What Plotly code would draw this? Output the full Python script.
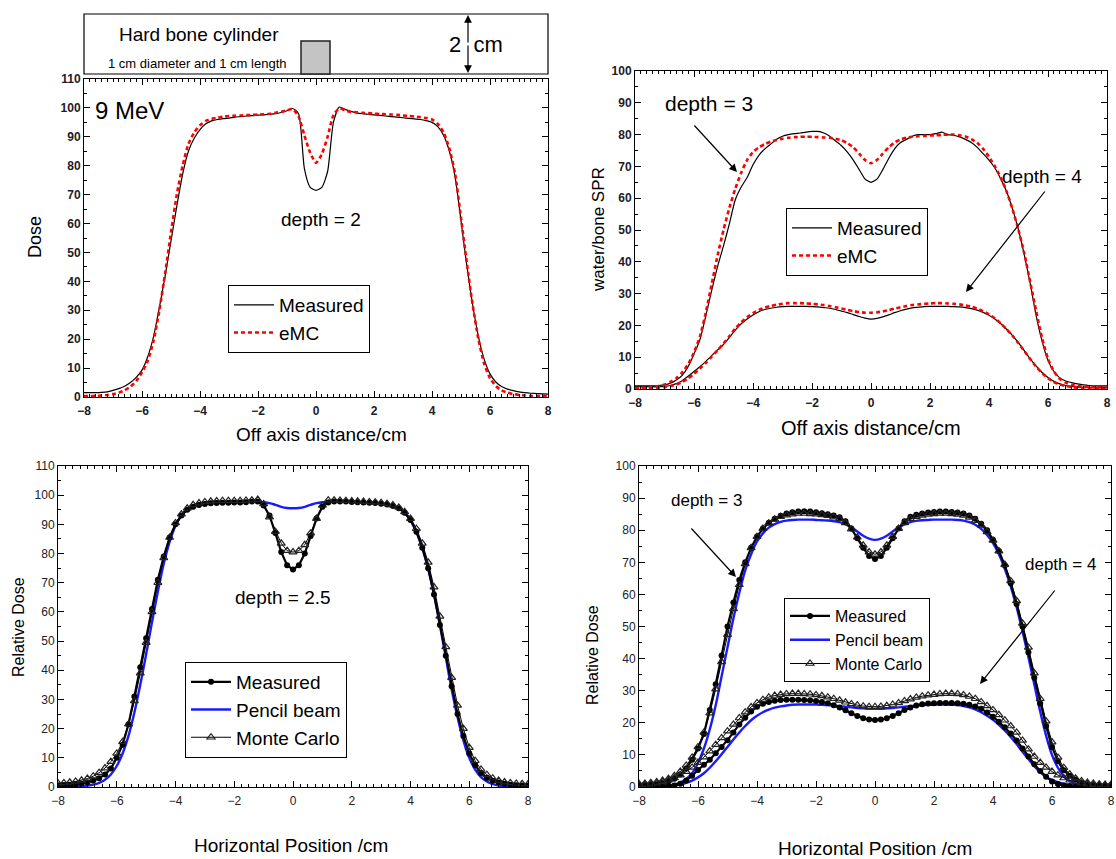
import plotly.graph_objects as go

W, H = 1116, 859

# common sampling grid of the profiles (cm)
X = [round(-8 + 0.2 * i, 1) for i in range(81)]

# ---------- Panel 1 : 9 MeV, depth = 2 ----------
P1_MEAS = [1.5, 1.5, 1.5, 1.6, 1.8, 2.3, 2.9, 3.7, 5.0, 6.8,
           9.3, 14.0, 21.0, 31.0, 42.0, 54.0, 66.0, 77.0, 85.0, 89.5,
           92.5, 94.5, 95.5, 96.0, 96.3, 96.5, 96.8, 97.0, 97.2, 97.3,
           97.5, 97.6, 97.8, 98.0, 98.4, 99.0, 99.8, 98.0, 79.0, 72.5,
           71.5, 72.5, 78.0, 95.0, 100.3, 99.5, 98.8, 98.3, 98.0, 97.8,
           97.6, 97.4, 97.2, 97.0, 96.8, 96.6, 96.4, 96.2, 96.0, 95.6,
           95.0, 93.5, 90.5, 85.0, 76.0, 61.0, 45.5, 32.0, 21.0, 13.0,
           8.0, 5.2, 3.6, 2.7, 2.2, 1.8, 1.5, 1.3, 1.2, 1.1,
           1.0]
P1_EMC = [0.3, 0.3, 0.4, 0.5, 0.7, 1.0, 1.5, 2.3, 3.6, 5.5,
          8.5, 12.5, 19.5, 30.0, 43.0, 57.0, 70.0, 80.0, 87.5, 91.5,
          94.0, 95.5, 96.2, 96.6, 97.0, 97.2, 97.3, 97.4, 97.5, 97.6,
          97.7, 97.8, 98.0, 98.3, 98.7, 99.2, 99.6, 97.0, 90.5, 84.5,
          81.0, 84.0, 90.0, 97.5, 99.8, 99.2, 98.6, 98.5, 98.3, 98.2,
          98.0, 97.9, 97.8, 97.7, 97.6, 97.4, 97.2, 97.0, 96.8, 96.5,
          96.0, 94.5, 91.5, 86.0, 77.0, 62.0, 46.5, 32.0, 20.0, 11.5,
          6.5, 3.8, 2.3, 1.5, 1.0, 0.7, 0.5, 0.4, 0.3, 0.3,
          0.3]

# ---------- Panel 2 : depth = 3 and depth = 4 ----------
P2_D3_MEAS = [1.0, 1.0, 1.0, 1.0, 1.1, 1.3, 1.8, 2.8, 4.3, 7.0,
              11.0, 15.5, 23.0, 31.0, 38.5, 45.0, 52.0, 59.5, 63.5, 66.5,
              70.5, 73.5, 75.5, 77.0, 78.5, 79.5, 80.0, 80.3, 80.5, 80.8,
              81.0, 81.0, 80.5, 79.5, 78.0, 76.5, 74.5, 72.0, 69.0, 66.0,
              65.0, 66.0, 69.0, 72.5, 75.5, 77.5, 78.5, 79.5, 80.0, 80.0,
              80.0, 80.3, 80.8, 80.0, 79.8, 79.3, 78.5, 77.5, 76.0, 74.0,
              72.0, 69.5, 66.0, 62.0, 56.5, 50.0, 42.0, 33.0, 23.0, 15.0,
              9.0, 5.5, 3.5, 2.5, 2.0, 1.6, 1.3, 1.1, 1.0, 1.0,
              1.0]
P2_D3_EMC = [0.2, 0.3, 0.4, 0.6, 0.9, 1.4, 2.2, 3.4, 5.2, 7.8,
             11.5, 16.5, 24.0, 33.0, 42.0, 50.0, 57.0, 63.0, 68.0, 72.0,
             74.5, 76.0, 77.0, 77.8, 78.3, 78.7, 79.0, 79.2, 79.3, 79.3,
             79.3, 79.2, 79.1, 79.0, 78.7, 78.2, 77.3, 76.0, 74.0, 72.0,
             71.0, 72.0, 74.0, 76.0, 77.5, 78.5, 79.0, 79.3, 79.5, 79.6,
             79.7, 79.8, 79.9, 80.0, 80.0, 79.8, 79.4, 78.6, 77.4, 75.5,
             73.0, 70.0, 66.5, 62.0, 56.5, 50.0, 42.5, 33.5, 24.5, 16.0,
             9.5, 5.5, 3.2, 2.0, 1.3, 0.9, 0.7, 0.6, 0.5, 0.5,
             0.5]
P2_D4_MEAS = [0.7, 0.7, 0.7, 0.7, 0.7, 0.8, 1.1, 1.7, 2.6, 4.0,
              5.5, 7.0, 8.7, 10.5, 12.3, 14.0, 16.2, 18.5, 20.5, 22.0,
              23.3, 24.3, 25.0, 25.4, 25.7, 25.9, 26.0, 26.0, 26.0, 26.0,
              25.9, 25.8, 25.6, 25.4, 25.0, 24.5, 24.0, 23.4, 22.8, 22.3,
              22.0, 22.2, 22.7, 23.3, 24.0, 24.6, 25.1, 25.5, 25.7, 25.9,
              26.0, 26.0, 26.0, 26.0, 25.9, 25.8, 25.6, 25.3, 24.8, 24.1,
              23.2, 22.0, 20.5, 18.8, 16.8, 14.5, 12.0, 9.5, 7.2, 5.2,
              3.6, 2.4, 1.6, 1.1, 0.8, 0.6, 0.5, 0.5, 0.5, 0.5,
              0.5]
P2_D4_EMC = [0.1, 0.1, 0.2, 0.3, 0.4, 0.6, 0.9, 1.4, 2.2, 3.3,
             4.8, 6.4, 8.2, 10.2, 12.2, 14.3, 16.6, 19.0, 21.0, 22.6,
             23.9, 24.9, 25.6, 26.1, 26.5, 26.8, 27.0, 27.0, 27.0, 26.9,
             26.8, 26.6, 26.4, 26.1, 25.7, 25.3, 24.9, 24.5, 24.2, 24.0,
             24.0, 24.1, 24.4, 24.8, 25.3, 25.7, 26.1, 26.4, 26.6, 26.8,
             26.9, 27.0, 27.0, 26.9, 26.8, 26.6, 26.3, 25.9, 25.3, 24.5,
             23.5, 22.2, 20.6, 18.8, 16.7, 14.4, 11.9, 9.4, 7.0, 5.0,
             3.4, 2.2, 1.4, 0.9, 0.6, 0.4, 0.3, 0.2, 0.2, 0.1,
             0.1]

# ---------- Panel 3 : depth = 2.5 ----------
P3_MEAS = [0.5, 0.6, 0.7, 0.9, 1.2, 1.6, 2.2, 3.0, 4.3, 6.3,
           10.0, 14.5, 21.5, 31.0, 41.0, 51.0, 61.0, 71.0, 79.0, 85.5,
           90.0, 93.0, 95.0, 96.0, 96.6, 97.0, 97.2, 97.3, 97.4, 97.4,
           97.5, 97.5, 97.6, 97.8, 97.8, 96.5, 93.0, 87.0, 80.5, 76.0,
           74.5, 76.0, 80.0, 86.0, 92.0, 96.0, 97.5, 97.8, 97.8, 97.8,
           97.7, 97.6, 97.5, 97.4, 97.3, 97.1, 96.8, 96.3, 95.5, 94.0,
           91.5, 87.5, 82.0, 75.0, 66.0, 55.5, 45.0, 34.5, 25.0, 17.5,
           11.5, 7.5, 4.8, 3.1, 2.1, 1.5, 1.1, 0.8, 0.6, 0.5,
           0.5]
P3_MC = [1.3, 1.4, 1.6, 1.9, 2.3, 2.9, 3.7, 4.9, 6.5, 8.7,
         11.5, 15.5, 21.5, 29.5, 39.0, 49.5, 60.0, 70.0, 78.5, 85.5,
         90.5, 93.5, 95.5, 96.7, 97.3, 97.7, 97.9, 98.0, 98.1, 98.1,
         98.1, 98.1, 98.2, 98.3, 98.5, 97.0, 92.5, 87.5, 83.5, 81.0,
         80.5, 81.0, 83.0, 87.0, 92.0, 96.5, 98.3, 98.3, 98.2, 98.1,
         98.0, 97.9, 97.8, 97.7, 97.6, 97.4, 97.1, 96.6, 95.8, 94.3,
         92.0, 88.5, 83.5, 77.0, 68.5, 58.5, 48.0, 37.5, 28.0, 20.0,
         13.5, 9.0, 6.0, 4.2, 3.0, 2.2, 1.7, 1.4, 1.2, 1.1,
         1.0]
P3_PB = [0.1, 0.1, 0.1, 0.2, 0.3, 0.5, 0.8, 1.4, 2.5, 4.3,
         7.2, 11.5, 17.5, 25.5, 35.0, 45.5, 56.5, 67.0, 76.5, 84.0,
         89.5, 93.0, 95.2, 96.4, 97.0, 97.3, 97.5, 97.6, 97.7, 97.7,
         97.7, 97.7, 97.7, 97.7, 97.7, 97.6, 97.3, 96.7, 96.0, 95.6,
         95.5, 95.6, 96.0, 96.7, 97.3, 97.6, 97.7, 97.7, 97.7, 97.7,
         97.7, 97.7, 97.6, 97.5, 97.3, 97.1, 96.8, 96.3, 95.5, 94.0,
         91.5, 87.5, 82.0, 75.0, 66.0, 55.5, 44.5, 33.5, 24.0, 16.0,
         10.0, 6.0, 3.4, 1.9, 1.0, 0.5, 0.3, 0.2, 0.1, 0.1,
         0.1]

# ---------- Panel 4 : depth = 3 and depth = 4 ----------
P4_D3_MEAS = [0.6, 0.6, 0.7, 0.8, 1.0, 1.8, 2.6, 3.9, 5.8, 8.5,
              12.0, 16.5, 24.0, 32.0, 41.0, 50.0, 57.5, 64.5, 70.0, 74.5,
              78.0, 80.5, 82.3, 83.6, 84.5, 85.2, 85.6, 85.8, 85.9, 85.8,
              85.6, 85.3, 85.0, 84.6, 84.0, 82.8, 80.5, 77.5, 74.5, 72.0,
              71.0, 72.0, 74.5, 77.5, 80.5, 82.8, 84.2, 84.8, 85.2, 85.5,
              85.7, 85.8, 85.8, 85.7, 85.5, 85.2, 84.6, 83.6, 82.0, 80.0,
              77.0, 73.5, 69.0, 63.5, 57.0, 50.0, 42.0, 34.0, 26.0, 19.0,
              12.5, 8.0, 5.2, 3.5, 2.3, 1.3, 0.8, 0.6, 0.5, 0.5,
              0.5]
P4_D3_MC = [1.0, 1.1, 1.3, 1.6, 2.0, 2.6, 3.5, 4.8, 6.7, 9.2,
            12.5, 17.0, 23.0, 30.5, 39.0, 47.5, 55.5, 63.0, 69.5, 74.5,
            78.0, 80.5, 82.2, 83.4, 84.2, 84.7, 85.0, 85.2, 85.2, 85.1,
            85.0, 84.8, 84.5, 84.1, 83.5, 82.3, 80.3, 77.8, 75.3, 73.2,
            72.5, 73.2, 75.3, 78.0, 80.5, 82.3, 83.5, 84.2, 84.6, 84.9,
            85.1, 85.2, 85.2, 85.1, 84.9, 84.6, 84.0, 83.0, 81.5, 79.5,
            76.8, 73.5, 69.3, 64.2, 58.0, 51.0, 43.5, 35.5, 27.5, 20.5,
            14.0, 9.2, 6.0, 4.0, 2.7, 1.9, 1.4, 1.1, 0.9, 0.8,
            0.8]
P4_D3_PB = [0.1, 0.1, 0.1, 0.2, 0.3, 0.5, 0.8, 1.4, 2.5, 4.3,
            7.5, 12.0, 18.0, 25.5, 34.5, 43.5, 52.5, 60.5, 67.5, 72.5,
            76.5, 79.0, 80.8, 81.9, 82.6, 83.0, 83.2, 83.3, 83.3, 83.3,
            83.2, 83.1, 83.0, 82.8, 82.5, 81.8, 80.8, 79.6, 78.3, 77.4,
            77.0, 77.4, 78.3, 79.6, 80.8, 81.8, 82.5, 82.9, 83.1, 83.2,
            83.3, 83.3, 83.3, 83.3, 83.2, 83.0, 82.5, 81.7, 80.4, 78.5,
            76.0, 72.5, 68.0, 62.5, 56.0, 48.5, 40.5, 32.0, 23.5, 16.0,
            10.0, 6.0, 3.4, 1.9, 1.0, 0.5, 0.3, 0.2, 0.1, 0.1,
            0.1]
P4_D4_MEAS = [0.2, 0.2, 0.2, 0.2, 0.2, 0.3, 0.5, 1.0, 2.0, 3.5,
              5.3, 6.9, 8.5, 10.5, 12.5, 14.6, 17.0, 19.5, 21.6, 23.5,
              25.0, 25.9, 26.5, 26.9, 27.1, 27.2, 27.2, 27.2, 27.1, 27.0,
              26.8, 26.5, 26.1, 25.5, 24.8, 23.9, 23.0, 22.1, 21.4, 21.0,
              20.9, 21.0, 21.4, 22.1, 23.0, 24.0, 24.8, 25.4, 25.8, 26.0,
              26.1, 26.2, 26.2, 26.2, 26.1, 25.9, 25.6, 25.1, 24.4, 23.2,
              21.9, 20.3, 18.6, 16.7, 14.5, 12.0, 9.5, 7.1, 5.0, 3.2,
              1.7, 0.9, 0.5, 0.3, 0.2, 0.1, 0.1, 0.1, 0.1, 0.1,
              0.1]
P4_D4_MC = [0.6, 0.7, 0.9, 1.2, 1.6, 2.1, 2.8, 3.7, 4.8, 6.1,
            7.6, 9.3, 11.2, 13.2, 15.3, 17.4, 19.5, 21.5, 23.3, 24.9,
            26.2, 27.2, 28.0, 28.5, 28.8, 29.0, 29.1, 29.1, 29.0, 28.9,
            28.7, 28.4, 28.0, 27.5, 27.0, 26.4, 25.9, 25.5, 25.2, 25.0,
            25.0, 25.1, 25.3, 25.7, 26.2, 26.8, 27.4, 27.9, 28.3, 28.6,
            28.8, 29.0, 29.1, 29.1, 29.0, 28.7, 28.2, 27.5, 26.5, 25.3,
            24.0, 22.5, 20.8, 19.0, 17.0, 14.5, 11.8, 9.5, 7.6, 6.1,
            4.8, 3.7, 2.8, 2.1, 1.6, 1.2, 0.9, 0.7, 0.6, 0.5,
            0.5]
P4_D4_PB = [0.1, 0.1, 0.1, 0.1, 0.2, 0.3, 0.5, 0.8, 1.3, 2.0,
            3.0, 4.3, 6.0, 8.0, 10.2, 12.5, 14.8, 17.0, 19.0, 20.8,
            22.2, 23.3, 24.1, 24.7, 25.1, 25.4, 25.6, 25.7, 25.7, 25.7,
            25.7, 25.6, 25.5, 25.4, 25.2, 25.0, 24.8, 24.6, 24.5, 24.4,
            24.4, 24.4, 24.5, 24.6, 24.8, 25.0, 25.2, 25.4, 25.5, 25.6,
            25.6, 25.7, 25.7, 25.6, 25.5, 25.2, 24.8, 24.2, 23.3, 22.2,
            20.9, 19.4, 17.6, 15.6, 13.4, 11.0, 8.7, 6.5, 4.6, 3.1,
            2.2, 1.5, 1.0, 0.6, 0.4, 0.2, 0.1, 0.1, 0.1, 0.1,
            0.1]

for arr in (P1_MEAS, P1_EMC, P2_D3_MEAS, P2_D3_EMC, P2_D4_MEAS, P2_D4_EMC,
            P3_MEAS, P3_MC, P3_PB, P4_D3_MEAS, P4_D3_MC, P4_D3_PB,
            P4_D4_MEAS, P4_D4_MC, P4_D4_PB):
    assert len(arr) == len(X)

X_TICKS = [-8, -6, -4, -2, 0, 2, 4, 6, 8]

F = "Liberation Sans, Arial, sans-serif"
FN = "Liberation Sans Narrow, Arial Narrow, Liberation Sans, sans-serif"


def px(v):
    return v / W


def py(v):
    return 1 - v / H


fig = go.Figure()

# ---- panel 1 traces
fig.add_trace(go.Scatter(x=X, y=P1_MEAS, mode="lines", name="Measured",
                         line=dict(color="black", width=1.2, shape="spline", smoothing=0.6),
                         xaxis="x", yaxis="y", legend="legend"))
fig.add_trace(go.Scatter(x=X, y=P1_EMC, mode="lines", name="eMC",
                         line=dict(color="#ff0000", width=2.6, dash="4px,3px", shape="spline", smoothing=0.6),
                         xaxis="x", yaxis="y", legend="legend"))

# ---- panel 2 traces
for i, m in enumerate([P2_D3_MEAS, P2_D4_MEAS]):
    fig.add_trace(go.Scatter(x=X, y=m, mode="lines", name="Measured", showlegend=(i == 0),
                             legendgroup="m2", legendrank=1,
                             line=dict(color="black", width=1.2, shape="spline", smoothing=0.6),
                             xaxis="x2", yaxis="y2", legend="legend2"))
for i, e in enumerate([P2_D3_EMC, P2_D4_EMC]):
    fig.add_trace(go.Scatter(x=X, y=e, mode="lines", name="eMC", showlegend=(i == 0),
                             legendgroup="e2", legendrank=2,
                             line=dict(color="#ff0000", width=2.6, dash="4px,3px", shape="spline", smoothing=0.6),
                             xaxis="x2", yaxis="y2", legend="legend2"))

meas_style = dict(mode="lines+markers", line=dict(color="black", width=2.2),
                  marker=dict(symbol="circle", size=6, color="black"))
mc_style = dict(mode="lines+markers", line=dict(color="black", width=1),
                marker=dict(symbol="triangle-up-open", size=7, color="#222222",
                            line=dict(width=1.2)))
pb_style = dict(mode="lines", line=dict(color="#1a1aff", width=2.4, shape="spline"))

# ---- panel 3 traces
fig.add_trace(go.Scatter(x=X, y=P3_PB, name="Pencil beam", legendrank=2,
                         xaxis="x3", yaxis="y3", legend="legend3", **pb_style))
fig.add_trace(go.Scatter(x=X, y=P3_MEAS, name="Measured", legendrank=1,
                         xaxis="x3", yaxis="y3", legend="legend3", **meas_style))
fig.add_trace(go.Scatter(x=X, y=P3_MC, name="Monte Carlo", legendrank=3,
                         xaxis="x3", yaxis="y3", legend="legend3", **mc_style))

# ---- panel 4 traces
for i, pb in enumerate([P4_D3_PB, P4_D4_PB]):
    fig.add_trace(go.Scatter(x=X, y=pb, name="Pencil beam", legendrank=2, showlegend=(i == 0),
                             legendgroup="pb4", xaxis="x4", yaxis="y4", legend="legend4", **pb_style))
for i, m in enumerate([P4_D3_MEAS, P4_D4_MEAS]):
    fig.add_trace(go.Scatter(x=X, y=m, name="Measured", legendrank=1, showlegend=(i == 0),
                             legendgroup="m4", xaxis="x4", yaxis="y4", legend="legend4", **meas_style))
for i, mc in enumerate([P4_D3_MC, P4_D4_MC]):
    fig.add_trace(go.Scatter(x=X, y=mc, name="Monte Carlo", legendrank=3, showlegend=(i == 0),
                             legendgroup="mc4", xaxis="x4", yaxis="y4", legend="legend4", **mc_style))


def xaxis(dom, anchor, font, minor):
    return dict(domain=dom, anchor=anchor, range=[-8, 8], tickvals=X_TICKS,
                ticks="inside", ticklen=6, tickwidth=1, tickcolor="black",
                showline=True, linecolor="black", linewidth=1, mirror="ticks",
                showgrid=False, zeroline=False, tickfont=font, automargin=False,
                ticklabelstandoff=3,
                minor=dict(dtick=minor, tick0=-8, ticks="inside", ticklen=3,
                           tickcolor="black", showgrid=False))


def yaxis(dom, anchor, top, font):
    return dict(domain=dom, anchor=anchor, range=[0, top], dtick=10, tick0=0,
                ticks="inside", ticklen=6, tickwidth=1, tickcolor="black",
                showline=True, linecolor="black", linewidth=1, mirror="ticks",
                showgrid=False, zeroline=False, tickfont=font, automargin=False,
                minor=dict(dtick=5, tick0=0, ticks="inside", ticklen=3,
                           tickcolor="black", showgrid=False))


tf_bold = dict(family=F, size=12, color="#1c1c28", weight="bold")
tf_norm = dict(family=F, size=12, color="#222222")

dom_x1 = [px(84), px(548)]
dom_y1 = [py(397), py(79)]
dom_x2 = [px(635), px(1107)]
dom_y2 = [py(389), py(71)]
dom_x3 = [px(58), px(528)]
dom_y3 = [py(787), py(466)]
dom_x4 = [px(639), px(1111)]
dom_y4 = [py(787), py(466)]


def legend_box(x, y, size, family):
    return dict(x=px(x), y=py(y), xanchor="left", yanchor="top",
                bordercolor="black", borderwidth=1, bgcolor="white",
                font=dict(family=family, size=size, color="black"),
                tracegroupgap=0, itemwidth=40, traceorder="normal")


fig.update_layout(
    width=W, height=H, autosize=False,
    margin=dict(l=0, r=0, t=0, b=0, pad=0, autoexpand=False),
    paper_bgcolor="white", plot_bgcolor="white",
    xaxis=xaxis(dom_x1, "y", tf_bold, 0.2),
    yaxis=yaxis(dom_y1, "x", 110, tf_bold),
    xaxis2=xaxis(dom_x2, "y2", tf_bold, 0.2),
    yaxis2=yaxis(dom_y2, "x2", 100, tf_bold),
    xaxis3=xaxis(dom_x3, "y3", tf_norm, 0.25),
    yaxis3=yaxis(dom_y3, "x3", 110, tf_norm),
    xaxis4=xaxis(dom_x4, "y4", tf_norm, 0.25),
    yaxis4=yaxis(dom_y4, "x4", 100, tf_norm),
    legend=legend_box(228, 285, 19, F),
    legend2=legend_box(786, 208, 19, F),
    legend3=legend_box(185, 662, 19, FN),
    legend4=legend_box(784, 598, 16, F),
)

# ---- schematic above panel 1
fig.add_shape(type="rect", xref="paper", yref="paper",
              x0=px(84), x1=px(548), y0=py(74), y1=py(14),
              line=dict(color="black", width=1.2), fillcolor="white")
fig.add_shape(type="rect", xref="paper", yref="paper",
              x0=px(301), x1=px(330), y0=py(74), y1=py(41),
              line=dict(color="#222222", width=1.5), fillcolor="#c4c4c4")

ann = []


def text(x, y, s, size, family=F, xanchor="center"):
    ann.append(dict(x=px(x), y=py(y), xref="paper", yref="paper", text=s,
                    showarrow=False, xanchor=xanchor, yanchor="middle",
                    font=dict(family=family, size=size, color="black")))


def vtext(x, y, s, size, family=F):
    ann.append(dict(x=px(x), y=py(y), xref="paper", yref="paper", text=s,
                    showarrow=False, textangle=-90, xanchor="center", yanchor="middle",
                    font=dict(family=family, size=size, color="black")))


def arrow(x0, y0, x1, y1, head=2):
    ann.append(dict(x=px(x1), y=py(y1), xref="paper", yref="paper",
                    ax=x0 - x1, ay=y0 - y1, axref="pixel", ayref="pixel",
                    text="", showarrow=True, arrowhead=head, arrowsize=1.3,
                    arrowwidth=1.2, arrowcolor="black"))


text(199, 34, "Hard bone cylinder", 19)
text(197, 63, "1 cm diameter and 1 cm length", 13)
text(476, 45, "2  cm", 22)
arrow(468, 44, 468, 15, head=2)
arrow(468, 44, 468, 73, head=2)

# panel 1
text(93, 111, "9 MeV", 24, xanchor="left")
text(321, 220, "depth = 2", 19)
text(321, 434, "Off axis distance/cm", 19)
vtext(35, 237, "Dose", 18)

# panel 2
text(709, 104, "depth = 3", 21)
arrow(693, 124, 737, 172)
text(1042, 176, "depth = 4", 19)
arrow(1046, 190, 966, 292)
text(871, 428, "Off axis distance/cm", 20)
vtext(598, 230, "water/bone SPR", 17)

# panel 3
text(283, 597, "depth = 2.5", 19, family=FN)
text(291, 845, "Horizontal Position /cm", 19, family=FN)
vtext(18, 627, "Relative Dose", 16)

# panel 4
text(706, 500, "depth = 3", 17, family=FN)
arrow(690, 527, 736, 577)
text(1060, 564, "depth = 4", 17, family=FN)
arrow(1056, 589, 980, 684)
text(875, 848, "Horizontal Position /cm", 19, family=FN)
vtext(592, 655, "Relative Dose", 16)

fig.update_layout(annotations=ann)

fig.write_html("out.html", config={"displayModeBar": False},
               post_script="document.body.style.margin='0px';")
